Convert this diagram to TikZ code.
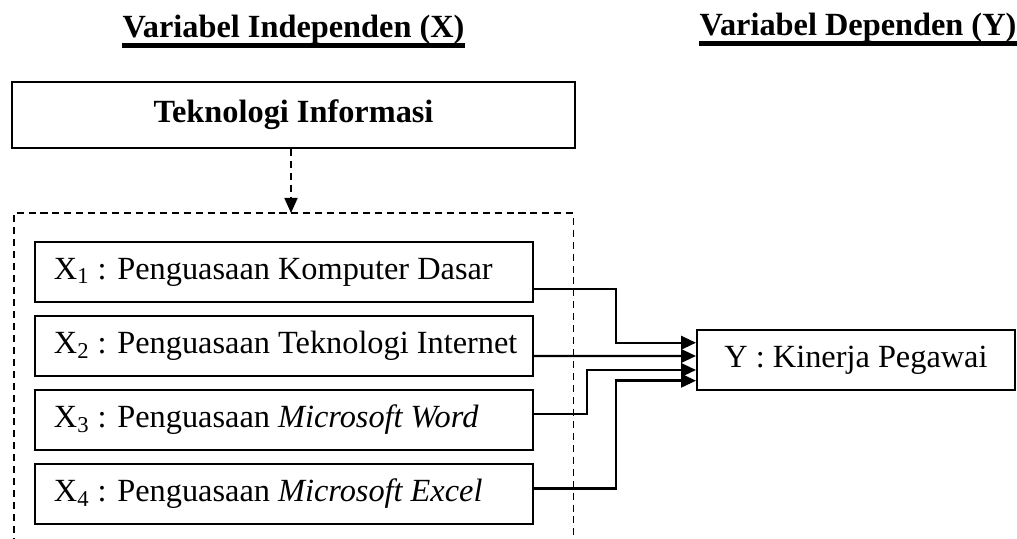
\documentclass[tikz,border=0pt]{standalone}
\usepackage{fontspec}
\setmainfont{Liberation Serif}
\usetikzlibrary{arrows.meta}

\newcommand{\xteks}[1]{\makebox[9.2cm][l]{#1}}

\begin{document}
\begin{tikzpicture}[
    font=\fontsize{18.4}{22}\selectfont,
    varbox/.style={draw, line width=1.1pt, minimum height=1.2cm, inner sep=0pt},
    xbox/.style={varbox, inner xsep=0.38cm, minimum width=9.96cm},
    conn/.style={line width=1.4pt, -{Triangle[length=0.3cm, width=0.27cm]}},
    grp/.style={dashed, line width=1pt, dash pattern=on 4pt off 2.8pt}
  ]
      \useasboundingbox (0,0) rectangle (20.34,-10.78);

       % judul
      \node[anchor=base, inner sep=0pt] (tindep) at (5.87,-0.76) {\textbf{Variabel Independen (X)}};
      \node[anchor=base, inner sep=0pt] (tdep) at (17.16,-0.72) {\textbf{Variabel Dependen (Y)}};
      \draw[line width=2.4pt] ([yshift=-0.15cm]tindep.base west) -- ([yshift=-0.15cm]tindep.base east);
      \draw[line width=2.4pt] ([yshift=-0.15cm]tdep.base west) -- ([yshift=-0.15cm]tdep.base east);

       % teknologi informasi
      \node[varbox, line width=1.3pt, minimum width=11.26cm, minimum height=1.32cm] (ti) at (5.87,-2.30) {\textbf{Teknologi Informasi}};
      \coordinate (grptop) at (5.82,-4.26);
      \draw[grp] (0.28,-10.9) -- (0.28,-4.26) -- (11.47,-4.26) -- (11.47,-10.9);
      \draw[grp, -{Triangle[length=0.3cm, width=0.26cm]}] (ti.south -| grptop) -- (grptop);

       % x_1 .. x_4
      \node[xbox] (x1) at (5.68,-5.44) {\xteks{X\textsubscript{1} : Penguasaan Komputer Dasar}};
      \node[xbox] (x2) at (5.68,-6.92) {\xteks{X\textsubscript{2} : Penguasaan Teknologi Internet}};
      \node[xbox] (x3) at (5.68,-8.40) {\xteks{X\textsubscript{3} : Penguasaan \textit{Microsoft Word}}};
      \node[xbox] (x4) at (5.68,-9.88) {\xteks{X\textsubscript{4} : Penguasaan \textit{Microsoft Excel}}};

       % y
      \node[varbox, minimum width=6.36cm] (y) at (17.12,-7.20) {Y : Kinerja Pegawai};

       % panah
      \draw[conn] ([yshift=-0.34cm]x1.east) -- ++(1.64,0) |- ([yshift=0.345cm]y.west);
      \draw[conn] ([yshift=-0.2cm]x2.east) -- ([yshift=0.08cm]y.west);
      \draw[conn] ([yshift=0.12cm]x3.east) -- ++(1.06,0) |- ([yshift=-0.2cm]y.west);
      \draw[conn] ([yshift=0.11cm]x4.east) -- ++(1.64,0) |- ([yshift=-0.414cm]y.west);
\end{tikzpicture}
\end{document}
